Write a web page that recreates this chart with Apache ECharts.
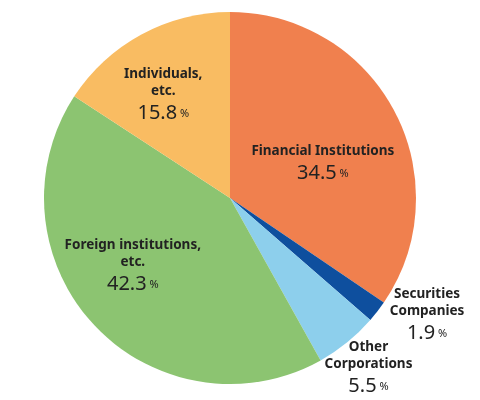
<!DOCTYPE html>
<html><head><meta charset="utf-8">
<script src="https://cdn.jsdelivr.net/npm/echarts@6/dist/echarts.min.js"></script>
<style>html,body{margin:0;padding:0;background:#fff}#c{width:480px;height:400px}</style>
</head><body><div id="c"></div>
<script>
const categories = ['Financial Institutions', 'Securities\nCompanies', 'Other\nCorporations', 'Foreign institutions,\netc.', 'Individuals,\netc.'];
const values = [34.5, 1.9, 5.5, 42.3, 15.8];
const colors = ['#F0804E', '#0E4F9E', '#8DCFEC', '#8CC471', '#F9BC62'];
const offsets = [[8, 12], [121, 60], [78, 97], [-27, 4], [-21, -17]];
const chart = echarts.init(document.getElementById('c'));
chart.setOption({
  animation: false,
  series: [{
    type: 'pie', center: [230, 198], radius: [0, 186], startAngle: 90, clockwise: true,
    minShowLabelAngle: 0, avoidLabelOverlap: false,
    labelLayout: { hideOverlap: false },
    labelLine: { show: false },
    data: categories.map((n, i) => ({
      name: n, value: values[i], itemStyle: { color: colors[i] },
      label: { offset: offsets[i] }
    })),
    label: {
      show: true, position: 'inside', fontFamily: 'Noto Sans', overflow: 'none',
      formatter: p => '{n|' + p.name + '}\n{v|' + p.value.toFixed(1) + '}{p| %}',
      rich: {
        n: { fontSize: 13.5, fontWeight: 'bold', color: '#222', lineHeight: 17, align: 'center', fontFamily: 'Noto Sans' },
        v: { fontSize: 20, color: '#222', lineHeight: 27, fontFamily: 'Noto Sans' },
        p: { fontSize: 11, color: '#222', lineHeight: 27, fontFamily: 'Noto Sans' }
      }
    }
  }]
});
</script></body></html>
